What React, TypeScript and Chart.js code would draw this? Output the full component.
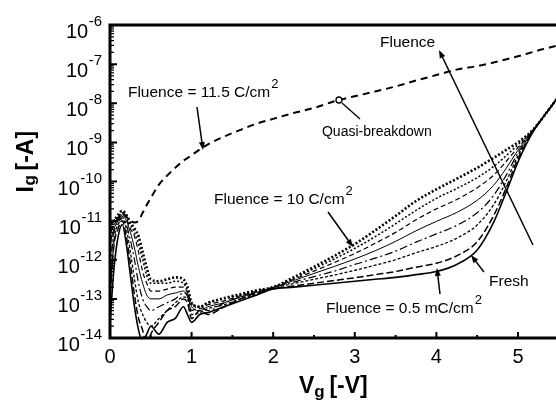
import React, { useEffect, useRef } from "react";
import { Chart, registerables } from "chart.js";
Chart.register(...registerables);

// Gate voltage grid [-V]
const vGrid = [0, 0.05, 0.1, 0.15, 0.2, 0.25, 0.3, 0.35, 0.4, 0.45, 0.5, 0.6, 0.7, 0.8, 0.9, 0.95, 1.0, 1.1, 1.2, 1.4, 1.6, 1.8,
  2.0, 2.25, 2.5, 2.75, 3.0, 3.25, 3.5, 3.75, 4.0, 4.25, 4.5, 4.7, 4.85, 5.0, 5.1, 5.2, 5.3, 5.4, 5.5];

// log10 of gate current [-A]
const logFresh = [-13.6, -12.2, -11.4, -11.1, -11.6, -12.4, -13.2, -13.8, -14.1, -13.9, -13.7, -13.9, -13.6, -13.5, -13.2, -13.4, -13.6, -13.4, -13.35, -13.2, -13.05, -12.9,
  -12.75, -12.7, -12.65, -12.6, -12.55, -12.5, -12.45, -12.38, -12.3, -12.12, -11.75, -11.05, -10.3, -9.5, -9.05, -8.68, -8.38, -8.1, -7.82];
const log05mC = [-12.8, -11.6, -11.2, -11.0, -11.4, -12.1, -12.9, -13.5, -13.8, -14.2, -13.9, -13.6, -13.3, -13.2, -13.0, -13.1, -13.5, -13.3, -13.4, -13.2, -13.0, -12.85,
  -12.74, -12.67, -12.6, -12.53, -12.46, -12.38, -12.3, -12.19, -12.09, -11.9, -11.54, -10.88, -10.19, -9.42, -9.02, -8.67, -8.38, -8.1, -7.82];
const logStep2 = [-13.0, -11.5, -11.1, -10.95, -11.2, -11.8, -12.5, -13.1, -13.4, -13.6, -13.7, -13.5, -13.3, -13.1, -12.95, -13.0, -13.4, -13.35, -13.25, -13.15, -13.0, -12.88,
  -12.72, -12.61, -12.5, -12.39, -12.27, -12.14, -12.0, -11.82, -11.66, -11.45, -11.11, -10.6, -10.02, -9.34, -8.98, -8.66, -8.38, -8.1, -7.82];
const logStep3 = [-12.2, -11.3, -11.05, -10.9, -11.1, -11.5, -12.0, -12.6, -13.0, -13.2, -13.3, -13.2, -13.1, -13.0, -12.85, -12.9, -13.3, -13.2, -13.3, -13.1, -12.95, -12.85,
  -12.71, -12.57, -12.43, -12.29, -12.12, -11.96, -11.78, -11.55, -11.34, -11.12, -10.8, -10.36, -9.86, -9.27, -8.95, -8.66, -8.38, -8.1, -7.82];
const logStep4 = [-11.6, -11.2, -11.0, -10.85, -11.0, -11.3, -11.7, -12.2, -12.6, -12.9, -13.0, -13.0, -12.9, -12.85, -12.8, -12.95, -13.2, -13.3, -13.2, -13.1, -12.95, -12.83,
  -12.71, -12.53, -12.35, -12.17, -11.98, -11.77, -11.53, -11.26, -11.02, -10.79, -10.48, -10.1, -9.68, -9.2, -8.92, -8.65, -8.38, -8.1, -7.82];
const logStep5 = [-11.3, -11.1, -10.95, -10.8, -10.95, -11.2, -11.4, -11.8, -12.3, -12.6, -12.8, -12.8, -12.75, -12.7, -12.7, -12.85, -13.1, -13.25, -13.15, -13.05, -12.92, -12.8,
  -12.7, -12.5, -12.29, -12.07, -11.84, -11.58, -11.3, -10.98, -10.7, -10.46, -10.16, -9.84, -9.5, -9.13, -8.9, -8.65, -8.38, -8.1, -7.82];
const logStep6 = [-11.2, -11.0, -10.9, -10.8, -10.9, -11.1, -11.3, -11.6, -12.0, -12.4, -12.6, -12.6, -12.6, -12.55, -12.6, -12.8, -13.15, -13.2, -13.1, -13.0, -12.9, -12.8,
  -12.7, -12.47, -12.23, -11.98, -11.71, -11.41, -11.08, -10.74, -10.43, -10.18, -9.9, -9.62, -9.35, -9.06, -8.87, -8.65, -8.38, -8.1, -7.82];
const log10C = [-11.1, -11.0, -10.85, -10.75, -10.85, -11.05, -11.2, -11.4, -11.8, -12.2, -12.5, -12.55, -12.5, -12.45, -12.5, -12.7, -13.1, -13.2, -13.1, -12.98, -12.88, -12.78,
  -12.7, -12.45, -12.18, -11.9, -11.6, -11.25, -10.88, -10.5, -10.2, -9.93, -9.65, -9.4, -9.2, -9.0, -8.84, -8.64, -8.38, -8.1, -7.82];
const log115C = [-11.3, -11.1, -10.95, -10.8, -10.9, -11.0, -11.05, -11.0, -10.8, -10.6, -10.42, -10.08, -9.85, -9.65, -9.47, -9.4, -9.33, -9.18, -9.05, -8.85, -8.68, -8.52,
  -8.4, -8.25, -8.12, -7.95, -7.82, -7.7, -7.57, -7.42, -7.28, -7.14, -7.05, -6.96, -6.88, -6.8, -6.74, -6.68, -6.62, -6.57, -6.52];

// Axis ticks
const xMajorTicks = [0, 1, 2, 3, 4, 5];
const xTickLabels = ["0", "1", "2", "3", "4", "5"];
const xMinorTicks = [0.5, 1.5, 2.5, 3.5, 4.5];
const yDecades = [-14, -13, -12, -11, -10, -9, -8, -7, -6];
const yTickExponents = ["-14", "-13", "-12", "-11", "-10", "-9", "-8", "-7", "-6"];
const yMinorMultipliers = [2, 3, 4, 5, 6, 7, 8, 9];

// Annotations in data units [V, log10 I]
const labelTexts = ["Fluence = 11.5 C/cm", "Quasi-breakdown", "Fluence", "Fluence = 10 C/cm", "Fresh", "Fluence = 0.5 mC/cm"];
const labelAnchors = [[0.22, -7.84], [2.598, -8.837], [3.309, -6.562], [1.275, -10.575], [4.645, -12.671], [2.647, -13.361]];
const labelSup = ["2", "", "", "2", "", "2"];
const arrowFrom = [[1.066, -8.096], [5.184, -11.623], [2.672, -10.78], [4.583, -12.313], [4.044, -12.875]];
const arrowTo = [[1.14, -9.195], [4.032, -6.639], [2.978, -11.674], [4.424, -11.879], [4.007, -12.211]];
const qbdMarker = [2.806, -7.917];
const qbdLine = [[2.843, -7.994], [3.064, -8.403]];

const FONT = '"Liberation Sans", Arial, Helvetica, sans-serif';

const seriesLogs = [logFresh, log05mC, logStep2, logStep3, logStep4, logStep5, logStep6, log10C, log115C];
const seriesNames = ["Fresh", "0.5 mC/cm2", "F2", "F3", "F4", "F5", "F6", "10 C/cm2", "11.5 C/cm2"];
const seriesDash = [[], [7, 3], [3, 2], [8, 3, 2, 3], [], [5, 3], [2, 2], [2, 2], [7, 5]];
const seriesWidth = [1.6, 1.5, 1.3, 1.2, 1.0, 1.2, 1.5, 2.6, 2.0];

const overlay = {
  id: "overlay",
  afterDatasetsDraw(chart: any) {
    const { ctx, chartArea, scales } = chart;
    const { left, top, right, bottom } = chartArea;
    const xs = scales.x;
    const ys = scales.y;
    const px = (v: number) => xs.getPixelForValue(v);
    const py = (l: number) => ys.getPixelForValue(Math.pow(10, l));
    ctx.save();
    ctx.strokeStyle = "#000";
    ctx.fillStyle = "#000";
    // frame
    ctx.lineWidth = 3;
    ctx.setLineDash([]);
    ctx.beginPath();
    ctx.moveTo(left - 1.5, top);
    ctx.lineTo(right + 5, top);
    ctx.moveTo(left, top);
    ctx.lineTo(left, bottom);
    ctx.moveTo(left - 1.5, bottom);
    ctx.lineTo(right + 5, bottom);
    ctx.stroke();
    // x ticks
    ctx.lineWidth = 2;
    ctx.beginPath();
    xMajorTicks.forEach((v) => {
      const x = px(v);
      ctx.moveTo(x, bottom);
      ctx.lineTo(x, bottom - 6);
    });
    xMinorTicks.forEach((v) => {
      const x = px(v);
      ctx.moveTo(x, bottom);
      ctx.lineTo(x, bottom - 3);
    });
    ctx.stroke();
    // y ticks
    ctx.beginPath();
    yDecades.forEach((d) => {
      const y = py(d);
      ctx.moveTo(left, y);
      ctx.lineTo(left + 7, y);
    });
    ctx.stroke();
    ctx.lineWidth = 1.3;
    ctx.beginPath();
    yDecades.slice(0, -1).forEach((d) => {
      yMinorMultipliers.forEach((m) => {
        const y = py(d + Math.log10(m));
        ctx.moveTo(left, y);
        ctx.lineTo(left + 4, y);
      });
    });
    ctx.stroke();
    // x tick labels
    ctx.font = `20px ${FONT}`;
    ctx.textAlign = "center";
    ctx.textBaseline = "alphabetic";
    xMajorTicks.forEach((v, i) => {
      ctx.fillText(xTickLabels[i], px(v), bottom + 25);
    });
    // y tick labels
    yDecades.forEach((d, i) => {
      const y = py(d);
      ctx.font = `15px ${FONT}`;
      const ew = ctx.measureText(yTickExponents[i]).width;
      const ex = left - 8 - ew;
      ctx.textAlign = "left";
      ctx.fillText(yTickExponents[i], ex, y + 1);
      ctx.font = `20px ${FONT}`;
      ctx.textAlign = "right";
      ctx.fillText("10", ex - 0.5, y + 13);
    });
    // x title
    ctx.textAlign = "left";
    ctx.font = `bold 23px ${FONT}`;
    let tx = (left + right) / 2 - 34;
    const tyb = bottom + 55;
    ctx.fillText("V", tx, tyb);
    tx += ctx.measureText("V").width;
    ctx.font = `bold 17px ${FONT}`;
    ctx.fillText("g", tx, tyb + 4);
    tx += ctx.measureText("g ").width;
    ctx.font = `bold 23px ${FONT}`;
    ctx.fillText("[-V]", tx, tyb);
    // y title
    ctx.save();
    ctx.translate(left - 77, (top + bottom) / 2 + 11);
    ctx.rotate(-Math.PI / 2);
    let ty = 0;
    ctx.font = `bold 23px ${FONT}`;
    ctx.fillText("I", ty, 0);
    ty += ctx.measureText("I").width + 0.5;
    ctx.font = `bold 17px ${FONT}`;
    ctx.fillText("g", ty, 2);
    ty += ctx.measureText("g ").width;
    ctx.font = `bold 23px ${FONT}`;
    ctx.fillText("[-A]", ty, 0);
    ctx.restore();
    // annotation labels
    labelTexts.forEach((t, i) => {
      const x = px(labelAnchors[i][0]);
      const y = py(labelAnchors[i][1]);
      ctx.font = i === 1 ? `14px ${FONT}` : `15.5px ${FONT}`;
      ctx.textAlign = "left";
      ctx.fillText(t, x, y);
      if (labelSup[i]) {
        const w = ctx.measureText(t).width;
        ctx.font = `13px ${FONT}`;
        ctx.fillText(labelSup[i], x + w + 1, y - 9);
      }
    });
    // arrows
    ctx.lineWidth = 1.5;
    arrowFrom.forEach((f, i) => {
      const x1 = px(f[0]);
      const y1 = py(f[1]);
      const x2 = px(arrowTo[i][0]);
      const y2 = py(arrowTo[i][1]);
      const ang = Math.atan2(y2 - y1, x2 - x1);
      const hl = 8;
      const hw = 3;
      ctx.beginPath();
      ctx.moveTo(x1, y1);
      ctx.lineTo(x2 - Math.cos(ang) * hl * 0.8, y2 - Math.sin(ang) * hl * 0.8);
      ctx.stroke();
      ctx.beginPath();
      ctx.moveTo(x2, y2);
      ctx.lineTo(x2 - Math.cos(ang) * hl + Math.sin(ang) * hw, y2 - Math.sin(ang) * hl - Math.cos(ang) * hw);
      ctx.lineTo(x2 - Math.cos(ang) * hl - Math.sin(ang) * hw, y2 - Math.sin(ang) * hl + Math.cos(ang) * hw);
      ctx.closePath();
      ctx.fill();
    });
    // quasi-breakdown marker
    ctx.lineWidth = 1.3;
    ctx.beginPath();
    ctx.arc(px(qbdMarker[0]), py(qbdMarker[1]), 3, 0, Math.PI * 2);
    ctx.fillStyle = "#fff";
    ctx.fill();
    ctx.stroke();
    ctx.beginPath();
    ctx.moveTo(px(qbdLine[0][0]), py(qbdLine[0][1]));
    ctx.lineTo(px(qbdLine[1][0]), py(qbdLine[1][1]));
    ctx.stroke();
    ctx.restore();
  },
};

export default function App() {
  const ref = useRef<HTMLCanvasElement | null>(null);
  useEffect(() => {
    if (!ref.current) return;
    const datasets = seriesLogs.map((logs, i) => ({
      label: seriesNames[i],
      data: vGrid.map((v, j) => ({ x: v, y: Math.pow(10, logs[j]) })),
      borderColor: "#000",
      backgroundColor: "#000",
      borderWidth: seriesWidth[i],
      borderDash: seriesDash[i],
      pointRadius: 0,
      fill: false,
      cubicInterpolationMode: "monotone" as const,
    }));
    const chart = new Chart(ref.current, {
      type: "line",
      data: { datasets },
      options: {
        animation: false,
        responsive: false,
        devicePixelRatio: 1,
        layout: { padding: { left: 110, top: 25, right: 0, bottom: 65 } },
        plugins: { legend: { display: false }, tooltip: { enabled: false } },
        scales: {
          x: { type: "linear", min: 0, max: 5.466, display: false },
          y: { type: "logarithmic", min: 1e-14, max: 1e-6, display: false },
        },
      },
      plugins: [overlay],
    });
    return () => chart.destroy();
  }, []);
  return (
    <div style={{ position: "fixed", left: 0, top: 0, width: 556, height: 403, background: "#fff" }}>
      <canvas ref={ref} width={556} height={403} style={{ width: 556, height: 403 }} />
    </div>
  );
}
